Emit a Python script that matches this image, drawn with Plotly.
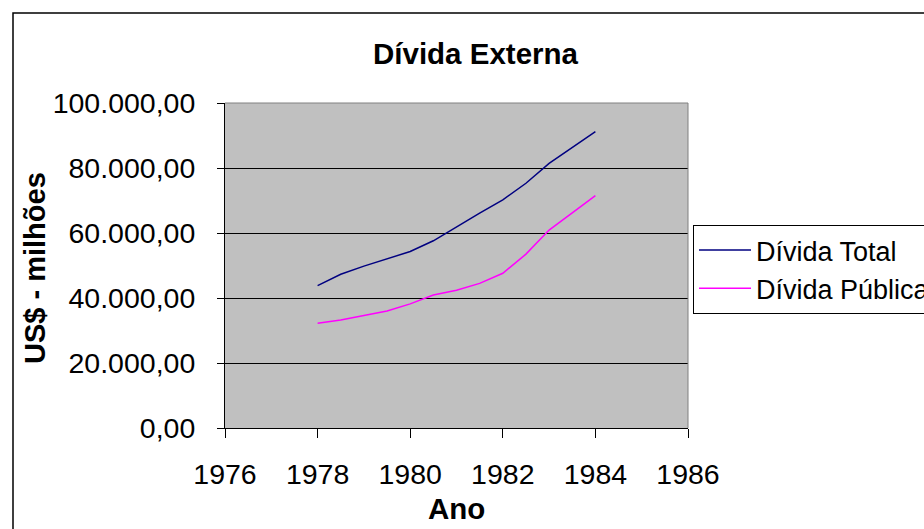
import plotly.graph_objects as go

anos = [1978, 1978.5, 1979, 1979.5, 1980, 1980.5, 1981, 1981.5, 1982, 1982.5, 1983, 1984]
divida_total = [43800, 47300, 49800, 52000, 54300, 57600, 61900, 66100, 70200, 75300, 81400, 91200]
divida_publica = [32200, 33200, 34600, 36000, 38200, 40900, 42400, 44500, 47600, 53500, 60900, 71500]
x_ticks = [1976, 1978, 1980, 1982, 1984, 1986]
y_ticks = [0, 20000, 40000, 60000, 80000, 100000]

W, H = 924, 529
L, R, T, B = 225, 688, 103, 428
pw, ph = R - L, B - T

def px(x):
    return (x - L) / pw

def py(y):
    return (B - y) / ph

font = "Liberation Sans, Arial, sans-serif"
FS = 28.5

fig = go.Figure()
fig.add_trace(go.Scatter(x=anos, y=divida_total, mode="lines", name="Dívida Total",
                         line=dict(color="#000080", width=1.5)))
fig.add_trace(go.Scatter(x=anos, y=divida_publica, mode="lines", name="Dívida Pública",
                         line=dict(color="#FF00FF", width=1.5)))

fig.update_layout(
    width=W, height=H,
    margin=dict(l=L, r=W - R, t=T, b=H - B, pad=0, autoexpand=False),
    paper_bgcolor="white", plot_bgcolor="#C0C0C0",
    separators=",.",
    font=dict(family=font, size=FS, color="black"),
    showlegend=True,
    legend=dict(x=px(693), y=py(225), xanchor="left", yanchor="top",
                bordercolor="black", borderwidth=1, bgcolor="white",
                font=dict(size=27, family=font), tracegroupgap=0,
                itemwidth=52),
    xaxis=dict(range=[1976, 1986], tickvals=x_ticks, showgrid=False, zeroline=False,
               showline=True, linecolor="black", linewidth=1,
               ticks="outside", ticklen=9, tickcolor="black",
               tickfont=dict(size=FS), ticklabelstandoff=12),
    yaxis=dict(range=[0, 100000], tickvals=y_ticks, tickformat=",.2f",
               showgrid=True, gridcolor="black", gridwidth=1, zeroline=False,
               showline=True, linecolor="black", linewidth=1,
               ticks="outside", ticklen=7, tickcolor="black",
               tickfont=dict(size=FS), ticklabelstandoff=16),
    shapes=[
        dict(type="path", xref="paper", yref="paper",
             path="M 0 1 L 1 1 L 1 0", line=dict(color="#808080", width=1), layer="above"),
        dict(type="rect", xref="paper", yref="paper",
             x0=px(13), y0=py(560), x1=px(960), y1=py(13),
             line=dict(color="black", width=1.5), layer="below"),
    ],
    annotations=[
        dict(text="<b>Dívida Externa</b>", xref="paper", yref="paper",
             x=px(476), y=py(53), showarrow=False, xanchor="center", yanchor="middle",
             font=dict(size=29.5, family=font)),
        dict(text="<b>Ano</b>", xref="paper", yref="paper",
             x=px(456), y=py(508), showarrow=False, xanchor="center", yanchor="middle",
             font=dict(size=29.5, family=font)),
        dict(text="<b>US$ - milhões</b>", xref="paper", yref="paper",
             x=px(35), y=py(268), showarrow=False, xanchor="center", yanchor="middle",
             textangle=-90, font=dict(size=29, family=font)),
    ],
)

fig.write_html("out.html", config={"displayModeBar": False},
               post_script="document.body.style.margin='0';document.body.style.padding='0';document.body.style.overflow='hidden';")
